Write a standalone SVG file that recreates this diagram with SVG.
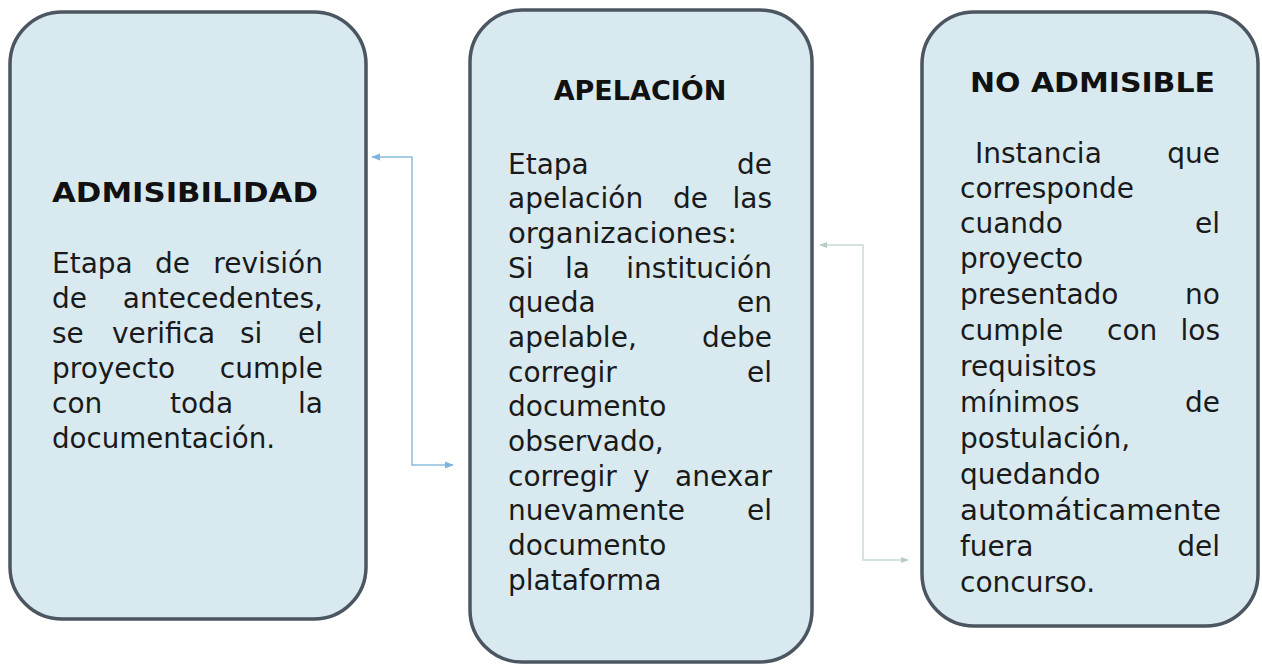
<svg xmlns="http://www.w3.org/2000/svg" width="1262" height="665" viewBox="0 0 1262 665">
<style>
.box{fill:#d8eaf0;stroke:#4b5660;stroke-width:3.5}
.t{font-family:"DejaVu Sans",Verdana,sans-serif;font-weight:bold;font-size:27px;fill:#111}
.b{font-family:"DejaVu Sans",Verdana,sans-serif;font-size:28px;fill:#1a1a1a}
.e{text-anchor:end}
.c1{fill:none;stroke:#8cbde2;stroke-width:1.5}
.c2{fill:none;stroke:#c9d9d4;stroke-width:1.5}
</style>
<defs>
<marker id="a1" viewBox="0 0 10 10" refX="9" refY="5" markerWidth="9" markerHeight="9" markerUnits="userSpaceOnUse" orient="auto-start-reverse"><path d="M0,1 L10,5 L0,9 Z" fill="#7fb4de"/></marker>
<marker id="a2" viewBox="0 0 10 10" refX="9" refY="5" markerWidth="8" markerHeight="8" markerUnits="userSpaceOnUse" orient="auto-start-reverse"><path d="M0,1 L10,5 L0,9 Z" fill="#b9ccc4"/></marker>
</defs>
<rect width="1262" height="665" fill="#ffffff"/>
<g id="connectors">
<path class="c1" d="M372,157 H412 V465 H453" marker-start="url(#a1)" marker-end="url(#a1)"/>
<path class="c2" d="M820,245 H863 V560 H908" marker-start="url(#a2)" marker-end="url(#a2)"/>
</g>
<g id="admisibilidad">
<rect class="box" x="10" y="12" width="356" height="607" rx="52"/>
<text class="t" x="52" y="202" textLength="266" lengthAdjust="spacingAndGlyphs">ADMISIBILIDAD</text>
<text class="b" x="52" y="273">Etapa</text><text class="b" x="155" y="273">de</text><text class="b e" x="323" y="273">revisión</text>
<text class="b" x="52" y="308">de</text><text class="b e" x="323" y="308">antecedentes,</text>
<text class="b" x="52" y="343">se</text><text class="b" x="112" y="343">verifica</text><text class="b" x="240" y="343">si</text><text class="b e" x="323" y="343">el</text>
<text class="b" x="52" y="378">proyecto</text><text class="b e" x="323" y="378">cumple</text>
<text class="b" x="52" y="413">con</text><text class="b" x="170" y="413">toda</text><text class="b e" x="323" y="413">la</text>
<text class="b" x="52" y="448" textLength="223" lengthAdjust="spacingAndGlyphs">documentación.</text>
</g>
<g id="apelacion">
<rect class="box" x="470" y="10" width="342" height="652" rx="52"/>
<text class="t" x="640" y="100" text-anchor="middle">APELACIÓN</text>
<text class="b" x="508" y="174">Etapa</text><text class="b e" x="772" y="174">de</text>
<text class="b" x="508" y="208">apelación</text><text class="b" x="673" y="208">de</text><text class="b e" x="772" y="208">las</text>
<text class="b" x="508" y="243" textLength="229" lengthAdjust="spacingAndGlyphs">organizaciones:</text>
<text class="b" x="508" y="278">Si</text><text class="b" x="565" y="278">la</text><text class="b e" x="772" y="278">institución</text>
<text class="b" x="508" y="312">queda</text><text class="b e" x="772" y="312">en</text>
<text class="b" x="508" y="347">apelable,</text><text class="b e" x="772" y="347">debe</text>
<text class="b" x="508" y="382">corregir</text><text class="b e" x="772" y="382">el</text>
<text class="b" x="508" y="416">documento</text>
<text class="b" x="508" y="451">observado,</text>
<text class="b" x="508" y="486">corregir</text><text class="b" x="633" y="486">y</text><text class="b e" x="772" y="486">anexar</text>
<text class="b" x="508" y="520">nuevamente</text><text class="b e" x="772" y="520">el</text>
<text class="b" x="508" y="555">documento</text>
<text class="b" x="508" y="590">plataforma</text>
</g>
<g id="no-admisible">
<rect class="box" x="922" y="12" width="336" height="614" rx="52"/>
<text class="t" x="970" y="92" textLength="245" lengthAdjust="spacingAndGlyphs">NO ADMISIBLE</text>
<text class="b" x="975" y="163">Instancia</text><text class="b e" x="1220" y="163">que</text>
<text class="b" x="960" y="198">corresponde</text>
<text class="b" x="960" y="233">cuando</text><text class="b e" x="1220" y="233">el</text>
<text class="b" x="960" y="268">proyecto</text>
<text class="b" x="960" y="304">presentado</text><text class="b e" x="1220" y="304">no</text>
<text class="b" x="960" y="340">cumple</text><text class="b" x="1107" y="340">con</text><text class="b e" x="1220" y="340">los</text>
<text class="b" x="960" y="376">requisitos</text>
<text class="b" x="960" y="412">mínimos</text><text class="b e" x="1220" y="412">de</text>
<text class="b" x="960" y="448">postulación,</text>
<text class="b" x="960" y="484">quedando</text>
<text class="b" x="960" y="520" textLength="261" lengthAdjust="spacingAndGlyphs">automáticamente</text>
<text class="b" x="960" y="556">fuera</text><text class="b e" x="1220" y="556">del</text>
<text class="b" x="960" y="592">concurso.</text>
</g>
</svg>
